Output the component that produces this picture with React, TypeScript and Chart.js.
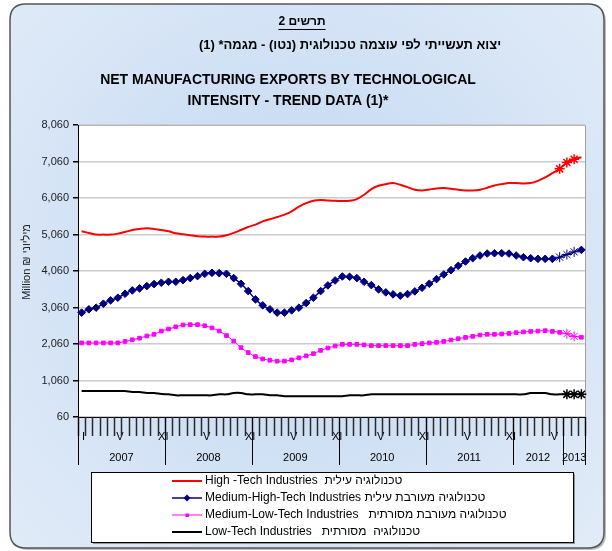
import React, { useEffect, useRef } from 'react';
import { Chart, registerables } from 'chart.js';

Chart.register(...registerables);

const FONT = '"Liberation Sans", Arial, sans-serif';

const years = ['2007', '2008', '2009', '2010', '2011', '2012', '2013'];
const yearMonthCounts = [12, 12, 12, 12, 12, 7, 3];

const monthTickLabels = [
  'I', '', '', '', '', 'V', '', '', '', '', '', 'XI',
  '', '', '', '', '', 'V', '', '', '', '', '', 'XI',
  '', '', '', '', '', 'V', '', '', '', '', '', 'XI',
  '', '', '', '', '', 'V', '', '', '', '', '', 'XI',
  '', '', '', '', '', 'V', '', '', '', '', '', 'XI',
  '', '', '', '', '', 'V', '',
  '', '', '',
];

const yTicks = [60, 1060, 2060, 3060, 4060, 5060, 6060, 7060, 8060];

const highTech = [
  5148, 5103, 5057, 5057, 5057, 5084, 5130, 5184, 5212, 5230, 5212, 5184,
  5148, 5093, 5066, 5039, 5012, 5002, 5002, 5002, 5039, 5103, 5184, 5266,
  5330, 5421, 5476, 5539, 5603, 5694, 5821, 5921, 5985, 6003, 5990, 5985,
  5976, 5985, 6031, 6149, 6304, 6395, 6440, 6468, 6422, 6358, 6286, 6267,
  6295, 6322, 6331, 6313, 6286, 6267, 6267, 6286, 6340, 6404, 6440, 6468,
  6468, 6458, 6468, 6531, 6622, 6741, 6859,
  7032, 7123, 7177,
];

const mediumHighTech = [
  2919, 3010, 3055, 3164, 3255, 3328, 3437, 3528, 3583, 3646, 3701, 3738,
  3765, 3765, 3810, 3865, 3919, 3983, 4010, 4001, 3983, 3865, 3710, 3510,
  3282, 3119, 3010, 2919, 2919, 2982, 3055, 3182, 3328, 3510, 3665, 3801,
  3910, 3901, 3865, 3765, 3674, 3556, 3474, 3419, 3383, 3428, 3501, 3601,
  3710, 3838, 3965, 4083, 4202, 4320, 4411, 4484, 4538, 4547, 4547, 4538,
  4484, 4438, 4411, 4393, 4393, 4393, 4438,
  4511, 4584, 4638,
];

const mediumLowTech = [
  2090, 2090, 2090, 2090, 2090, 2090, 2130, 2175, 2220, 2280, 2325, 2415,
  2470, 2530, 2580, 2590, 2590, 2560, 2500, 2415, 2290, 2140, 1960, 1825,
  1715, 1650, 1615, 1590, 1590, 1625, 1680, 1735, 1795, 1885, 1950, 2005,
  2050, 2050, 2050, 2035, 2015, 2015, 2015, 2015, 2015, 2015, 2050, 2070,
  2090, 2105, 2130, 2170, 2205, 2240, 2270, 2305, 2325, 2325, 2335, 2350,
  2370, 2390, 2405, 2415, 2425, 2405, 2380,
  2340, 2270, 2245,
];

const lowTech = [
  772, 772, 772, 772, 772, 772, 772, 745, 745, 718, 718, 690,
  681, 654, 654, 654, 654, 654, 654, 681, 681, 718, 718, 681,
  681, 681, 654, 654, 627, 627, 627, 627, 627, 627, 627, 627,
  627, 654, 654, 654, 681, 681, 681, 681, 681, 681, 681, 681,
  681, 681, 681, 681, 681, 681, 681, 681, 681, 681, 681, 681,
  681, 681, 718, 718, 718, 681, 681,
  681, 681, 681,
];

const seriesEnglish = [
  'High -Tech Industries',
  'Medium-High-Tech Industries',
  'Medium-Low-Tech Industries',
  'Low-Tech Industries',
];
const seriesHebrew = [
  'טכנולוגיה עילית',
  'טכנולוגיה מעורבת עילית',
  'טכנולוגיה מעורבת מסורתית',
  'טכנולוגיה  מסורתית',
];
const seriesGap = ['  ', ' ', '   ', '   '];

const starsHigh = [66, 67, 68];
const starsMedHigh = [66, 67, 68];
const starsMedLow = [67, 68];
const starsLow = [67, 68, 69];

const titleHeb1 = 'תרשים 2';
const titleHeb2 = 'יצוא תעשייתי לפי עוצמה טכנולוגית (נטו) - מגמה* (1)';
const titleEng1 = 'NET MANUFACTURING EXPORTS BY TECHNOLOGICAL';
const titleEng2 = 'INTENSITY - TREND DATA (1)*';
const yTitle = 'Million ₪ מיליוני';

// category labels built from the year groups
const categories: string[] = [];
years.forEach((y, yi) => {
  for (let m = 1; m <= yearMonthCounts[yi]; m++) categories.push(`${m}/${y}`);
});

function roundRectPath(ctx: CanvasRenderingContext2D, x: number, y: number, w: number, h: number, r: number) {
  ctx.beginPath();
  ctx.moveTo(x + r, y);
  ctx.lineTo(x + w - r, y);
  ctx.quadraticCurveTo(x + w, y, x + w, y + r);
  ctx.lineTo(x + w, y + h - r);
  ctx.quadraticCurveTo(x + w, y + h, x + w - r, y + h);
  ctx.lineTo(x + r, y + h);
  ctx.quadraticCurveTo(x, y + h, x, y + h - r);
  ctx.lineTo(x, y + r);
  ctx.quadraticCurveTo(x, y, x + r, y);
  ctx.closePath();
}

const framePlugin = {
  id: 'frame',
  beforeDraw(chart: any) {
    const { ctx, chartArea: ca } = chart;
    ctx.save();
    ctx.fillStyle = '#ffffff';
    ctx.fillRect(0, 0, chart.width, chart.height);
    roundRectPath(ctx, 12, 6, 594, 544, 16);
    ctx.fillStyle = 'rgba(0,0,0,0.25)';
    ctx.fill();
    roundRectPath(ctx, 10, 4, 594, 544, 16);
    const g = ctx.createRadialGradient(300, 260, 20, 300, 260, 420);
    g.addColorStop(0, '#c3d8f2');
    g.addColorStop(1, '#e2ecf8');
    ctx.fillStyle = g;
    ctx.fill();
    ctx.lineWidth = 1.5;
    ctx.strokeStyle = '#555555';
    ctx.stroke();
    ctx.fillStyle = '#ffffff';
    ctx.fillRect(ca.left, ca.top, ca.right - ca.left, ca.bottom - ca.top);
    ctx.strokeStyle = '#a0a0a0';
    ctx.lineWidth = 1;
    ctx.beginPath();
    ctx.moveTo(ca.left, ca.top + 0.5);
    ctx.lineTo(ca.right + 0.5, ca.top + 0.5);
    ctx.lineTo(ca.right + 0.5, ca.bottom);
    ctx.stroke();

    ctx.fillStyle = '#000000';
    ctx.textAlign = 'center';
    ctx.textBaseline = 'middle';
    ctx.direction = 'rtl';
    ctx.font = `bold 12px ${FONT}`;
    ctx.fillText(titleHeb1, 302, 22);
    const w1 = ctx.measureText(titleHeb1).width;
    ctx.fillRect(302 - w1 / 2, 29, w1, 1);
    ctx.font = `bold 13px ${FONT}`;
    ctx.fillText(titleHeb2, 350, 45);
    ctx.direction = 'ltr';
    ctx.font = `bold 14px ${FONT}`;
    ctx.fillText(titleEng1, 288, 80);
    ctx.fillText(titleEng2, 288, 101);

    ctx.save();
    ctx.translate(27, 262);
    ctx.rotate(-Math.PI / 2);
    ctx.font = `11px ${FONT}`;
    ctx.fillStyle = '#222222';
    ctx.fillText(yTitle, 0, 0);
    ctx.restore();
    ctx.restore();
  },
};

const axisPlugin = {
  id: 'monthYearRows',
  afterDraw(chart: any) {
    const { ctx } = chart;
    const xs = chart.scales.x;
    const ys = chart.scales.y;
    const base = Math.round(ys.getPixelForValue(yTicks[0]));
    const step = xs.getPixelForValue(1) - xs.getPixelForValue(0);
    ctx.save();
    ctx.setLineDash([]);
    ctx.fillStyle = '#000000';
    ctx.font = `11px ${FONT}`;
    ctx.textAlign = 'center';
    ctx.textBaseline = 'middle';
    // month tick marks at category boundaries
    ctx.strokeStyle = '#2a2a2a';
    ctx.lineWidth = 1.5;
    ctx.beginPath();
    for (let i = 0; i <= categories.length; i++) {
      const x = Math.round(xs.getPixelForValue(i) - step / 2) + 0.5;
      ctx.moveTo(x, base);
      ctx.lineTo(x, base + 19);
    }
    ctx.stroke();
    // year boundaries
    ctx.strokeStyle = '#000000';
    ctx.lineWidth = 1;
    let start = 0;
    const bounds = [0];
    yearMonthCounts.forEach((c) => {
      start += c;
      bounds.push(start);
    });
    ctx.beginPath();
    bounds.forEach((b) => {
      const x = Math.round(xs.getPixelForValue(b) - step / 2) + 0.5;
      ctx.moveTo(x, base);
      ctx.lineTo(x, base + 48);
    });
    ctx.stroke();
    years.forEach((y, i) => {
      const x0 = xs.getPixelForValue(bounds[i]) - step / 2;
      const x1 = xs.getPixelForValue(bounds[i + 1]) - step / 2;
      ctx.fillText(y, (x0 + x1) / 2, base + 41);
    });
    ctx.restore();
  },
};

const legendPlugin = {
  id: 'boxLegend',
  afterDraw(chart: any) {
    const { ctx } = chart;
    ctx.save();
    ctx.fillStyle = 'rgba(0,0,0,0.35)';
    ctx.fillRect(93, 474, 482, 70);
    ctx.fillStyle = '#ffffff';
    ctx.fillRect(91, 472, 482, 70);
    ctx.strokeStyle = '#000000';
    ctx.lineWidth = 1;
    ctx.strokeRect(91.5, 472.5, 482, 70);
    ctx.font = `12px ${FONT}`;
    ctx.textAlign = 'left';
    ctx.textBaseline = 'middle';
    ctx.direction = 'ltr';
    chart.data.datasets.forEach((ds: any, i: number) => {
      const y = 481 + i * 17;
      ctx.strokeStyle = ds.borderColor;
      ctx.lineWidth = ds.borderWidth;
      ctx.beginPath();
      ctx.moveTo(172, y);
      ctx.lineTo(202, y);
      ctx.stroke();
      if (ds.legendMarker === 'diamond') {
        ctx.fillStyle = ds.borderColor;
        ctx.beginPath();
        ctx.moveTo(187, y - 3.5);
        ctx.lineTo(190.5, y);
        ctx.lineTo(187, y + 3.5);
        ctx.lineTo(183.5, y);
        ctx.closePath();
        ctx.fill();
      } else if (ds.legendMarker === 'square') {
        ctx.fillStyle = ds.borderColor;
        ctx.fillRect(185.5, y - 1.5, 3.5, 3.5);
      }
      ctx.fillStyle = '#000000';
      ctx.fillText(seriesEnglish[i] + seriesGap[i] + seriesHebrew[i], 205, y);
    });
    ctx.restore();
  },
};

function starStyle(stars: number[], base: string) {
  return (c: any) => (stars.includes(c.dataIndex) ? 'star' : base);
}
function starRadius(stars: number[], base: number) {
  return (c: any) => (stars.includes(c.dataIndex) ? 5 : base);
}

export default function App() {
  const ref = useRef<HTMLCanvasElement>(null);
  useEffect(() => {
    document.body.style.margin = '0';
    const canvas = ref.current!;
    const chart = new Chart(canvas, {
      type: 'line',
      data: {
        labels: categories,
        datasets: [
          {
            label: seriesEnglish[0],
            data: highTech,
            borderColor: '#ff0000',
            backgroundColor: '#ff0000',
            borderWidth: 2,
            pointStyle: starStyle(starsHigh, 'circle') as any,
            pointRadius: starRadius(starsHigh, 0) as any,
            pointBorderColor: '#ff0000',
            pointBorderWidth: 1.5,
          },
          {
            label: seriesEnglish[1],
            data: mediumHighTech,
            borderColor: '#000080',
            backgroundColor: '#000080',
            borderWidth: 1.5,
            pointStyle: starStyle(starsMedHigh, 'rectRot') as any,
            pointRadius: starRadius(starsMedHigh, 3.8) as any,
            pointBorderColor: '#000080',
            pointBackgroundColor: '#000080',
            pointBorderWidth: 1,
            legendMarker: 'diamond',
          } as any,
          {
            label: seriesEnglish[2],
            data: mediumLowTech,
            borderColor: '#ff00ff',
            backgroundColor: '#ff00ff',
            borderWidth: 1,
            pointStyle: starStyle(starsMedLow, 'rect') as any,
            pointRadius: starRadius(starsMedLow, 2.6) as any,
            pointBorderColor: '#ff00ff',
            pointBackgroundColor: '#ff00ff',
            pointBorderWidth: 1,
            legendMarker: 'square',
          } as any,
          {
            label: seriesEnglish[3],
            data: lowTech,
            borderColor: '#000000',
            backgroundColor: '#000000',
            borderWidth: 2,
            pointStyle: starStyle(starsLow, 'circle') as any,
            pointRadius: starRadius(starsLow, 0) as any,
            pointBorderColor: '#000000',
            pointBorderWidth: 1.5,
          },
        ],
      },
      options: {
        responsive: false,
        animation: false,
        devicePixelRatio: 1,
        layout: { padding: { left: 0, right: 27, top: 125, bottom: 84 } },
        elements: { line: { tension: 0.3 } },
        plugins: {
          legend: { display: false },
          title: { display: false },
          tooltip: { enabled: false },
        },
        scales: {
          x: {
            type: 'category',
            offset: true,
            grid: { display: false },
            border: { display: true, color: '#000000', width: 1 },
            ticks: {
              autoSkip: false,
              maxRotation: 0,
              minRotation: 0,
              padding: 5,
              labelOffset: 2,
              font: { family: FONT, size: 11 },
              color: '#000000',
              callback: (_v: any, i: number) => monthTickLabels[i],
            },
            afterFit: (s: any) => {
              s.height = 50;
            },
          },
          y: {
            min: yTicks[0],
            max: yTicks[yTicks.length - 1],
            afterBuildTicks: (s: any) => {
              s.ticks = yTicks.map((v) => ({ value: v }));
            },
            ticks: {
              font: { family: FONT, size: 11 },
              color: '#222222',
              padding: 4,
              callback: (v: any) => Number(v).toLocaleString('en-US'),
            },
            grid: {
              color: '#cccccc',
              lineWidth: 1.5,
              tickColor: '#000000',
              tickLength: 5,
              drawTicks: true,
            },
            border: { display: true, color: '#000000', width: 1 },
            afterFit: (s: any) => {
              s.width = 78;
            },
          },
        },
      },
      plugins: [framePlugin, axisPlugin, legendPlugin],
    });
    return () => chart.destroy();
  }, []);
  return (
    <div style={{ position: 'absolute', left: 0, top: 0 }}>
      <canvas ref={ref} width={612} height={551} style={{ display: 'block', width: 612, height: 551 }} />
    </div>
  );
}
